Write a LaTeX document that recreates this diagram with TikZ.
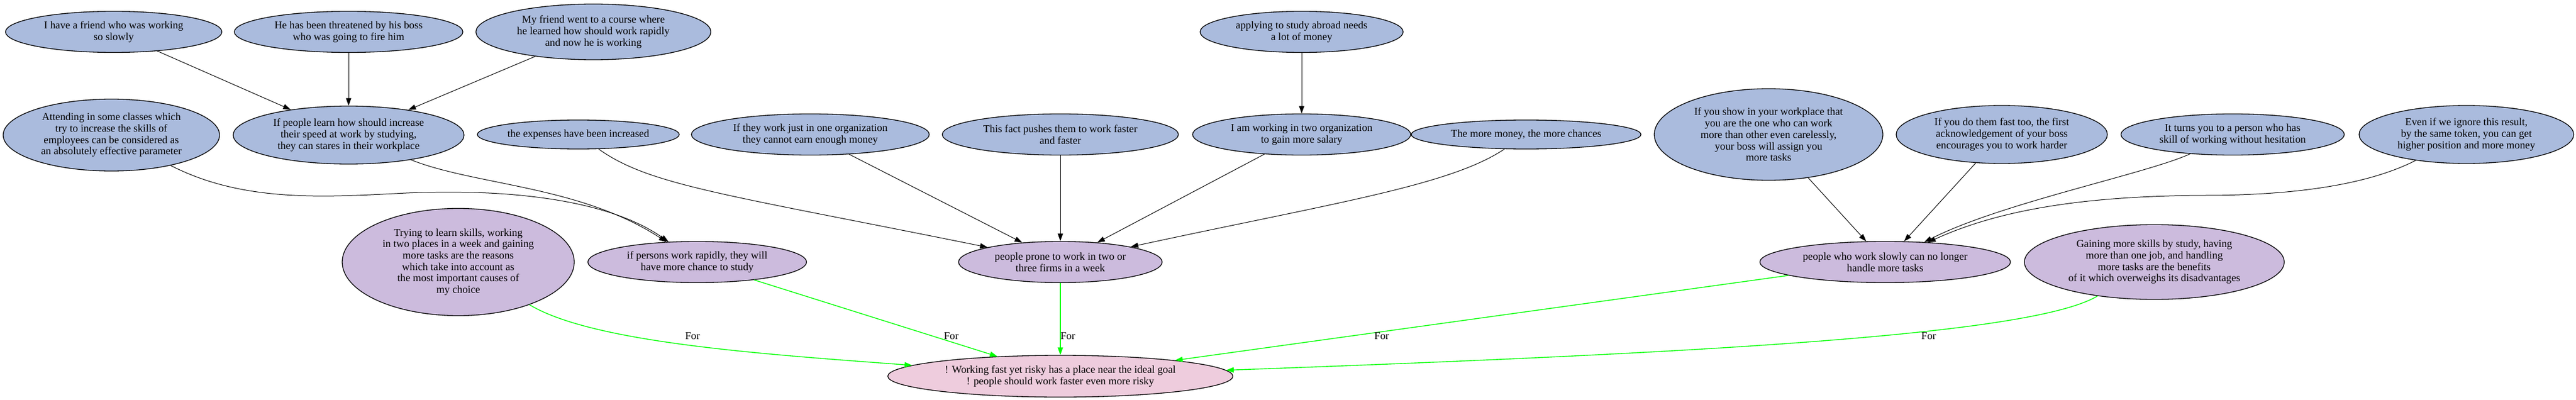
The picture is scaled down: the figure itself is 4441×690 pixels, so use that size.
\documentclass[tikz,border=0pt]{standalone}
\usepackage{fontspec}
\setmainfont{Liberation Serif}
\usepackage{xcolor}
\usepackage{tikz}
\usetikzlibrary{arrows.meta}
\usetikzlibrary{shapes.geometric}
\definecolor{nodeblue}{HTML}{AABBDD}
\definecolor{nodepurple}{HTML}{CCBBDD}
\definecolor{nodepink}{HTML}{EECCDD}
\definecolor{forgreen}{HTML}{00FF00}
\tikzset{
    textnode/.style = {align=center, inner sep=0pt, text centered, font=\fontsize{18.25}{19.7}\selectfont},
    dims/.style 2 args = {minimum width=#1pt, minimum height=#2pt},
    blue_node/.style = {textnode, ellipse, draw=black, fill=nodeblue, line width=1.3pt},
    purple_node/.style = {textnode, ellipse, draw=black, fill=nodepurple, line width=1.3pt},
    pink_node/.style = {textnode, ellipse, draw=black, fill=nodepink, line width=1.3pt},
    arg_edge/.style = {->, draw=black, line width=1pt},
    for_edge/.style = {->, draw=forgreen, line width=1.4pt},
    for_label/.style = {textnode}
}

\begin{document}
\begin{tikzpicture}[x=1pt, y=-1pt, >={Triangle[length=13pt,width=9pt]}]
    \useasboundingbox (0,0) rectangle (4441,690);
    % top row
    \node [blue_node, dims={373}{71}] (a1) at (196,55) {I have a friend who was working\\so slowly};
    \node [blue_node, dims={394}{71}] (a2) at (601,55) {He has been threatened by his boss\\who was going to fire him};
    \node [blue_node, dims={405}{96}] (a3) at (1023,55) {My friend went to a course where\\he learned how should work rapidly\\and now he is working};
    \node [blue_node, dims={350}{71}] (a4) at (2244,55) {applying to study abroad needs\\a lot of money};
    % second row
    \node [blue_node, dims={373}{124}] (b1) at (192,233) {Attending in some classes which\\try to increase the skills of\\employees can be considered as\\an absolutely effective parameter};
    \node [blue_node, dims={398}{100}] (b2) at (601,233) {If people learn how should increase\\their speed at work by studying,\\they can stares in their workplace};
    \node [blue_node, dims={348}{50}] (b3) at (997,232) {the expenses have been increased};
    \node [blue_node, dims={410}{71}] (b4) at (1397,232) {If they work just in one organization\\they cannot earn enough money};
    \node [blue_node, dims={407}{71}] (b5) at (1828,232) {This fact pushes them to work faster\\and faster};
    \node [blue_node, dims={376}{71}] (b6) at (2244,232) {I am working in two organization\\to gain more salary};
    \node [blue_node, dims={396}{50}] (b7) at (2631,232) {The more money, the more chances};
    \node [blue_node, dims={394}{158}] (b8) at (3049,232) {If you show in your workplace that\\you are the one who can work\\more than other even carelessly,\\your boss will assign you\\more tasks};
    \node [blue_node, dims={364}{100}] (b9) at (3451,232) {If you do them fast too, the first\\acknowledgement of your boss\\encourages you to work harder};
    \node [blue_node, dims={385}{71}] (b10) at (3849,232) {It turns you to a person who has\\skill of working without hesitation};
    \node [blue_node, dims={370}{100}] (b11) at (4252,232) {Even if we ignore this result,\\by the same token, you can get\\higher position and more money};
    % third row
    \node [purple_node, dims={400}{185}] (c1) at (790,452) {Trying to learn skills, working\\in two places in a week and gaining\\more tasks are the reasons\\which take into account as\\the most important causes of\\my choice};
    \node [purple_node, dims={377}{71}] (c2) at (1202,452) {if persons work rapidly, they will\\have more chance to study};
    \node [purple_node, dims={351}{71}] (c3) at (1828,452) {people prone to work in two or\\three firms in a week};
    \node [purple_node, dims={432}{71}] (c4) at (3250,452) {people who work slowly can no longer\\handle more tasks};
    \node [purple_node, dims={448}{129}] (c5) at (3714,452) {Gaining more skills by study, having\\more than one job, and handling\\more tasks are the benefits\\of it which overweighs its disadvantages};
    % goal
    \node [pink_node, dims={595}{72}] (goal) at (1828,649) {! Working fast yet risky has a place near the ideal goal\\! people should work faster even more risky};

    \draw [arg_edge] (a1) -- (b2);
    \draw [arg_edge] (a2) -- (b2);
    \draw [arg_edge] (a3) -- (b2);
    \draw [arg_edge] (a4) -- (b6);
    \draw [arg_edge] (b1) .. controls (420,350) and (560,340) .. (700,333) .. controls (880,325) and (1050,345) .. (c2);
    \draw [arg_edge] (b2) .. controls (820,320) and (1000,320) .. (c2);
    \draw [arg_edge] (b3) .. controls (1120,320) and (1250,335) .. (c3);
    \draw [arg_edge] (b4) -- (c3);
    \draw [arg_edge] (b5) -- (c3);
    \draw [arg_edge] (b6) -- (c3);
    \draw [arg_edge] (b7) .. controls (2500,320) and (2300,350) .. (c3);
    \draw [arg_edge] (b8) -- (c4);
    \draw [arg_edge] (b9) -- (c4);
    \draw [arg_edge] (b10) .. controls (3700,300) and (3450,350) .. (c4);
    \draw [arg_edge] (b11) .. controls (4080,320) and (3950,337) .. (3800,337) .. controls (3600,338) and (3450,360) .. (c4);

    \draw [for_edge] (c1) .. controls (1020,590) and (1300,610) .. (goal);
    \draw [for_edge] (c2) -- (goal);
    \draw [for_edge] (c3) -- (goal);
    \draw [for_edge] (c4) -- (goal);
    \draw [for_edge] (c5) .. controls (3500,580) and (2900,610) .. (goal);
    \node [for_label] (for1) at (1194,580) {For};
    \node [for_label] (for2) at (1640,580) {For};
    \node [for_label] (for3) at (1841,580) {For};
    \node [for_label] (for4) at (2382,580) {For};
    \node [for_label] (for5) at (3325,580) {For};
\end{tikzpicture}
\end{document}
